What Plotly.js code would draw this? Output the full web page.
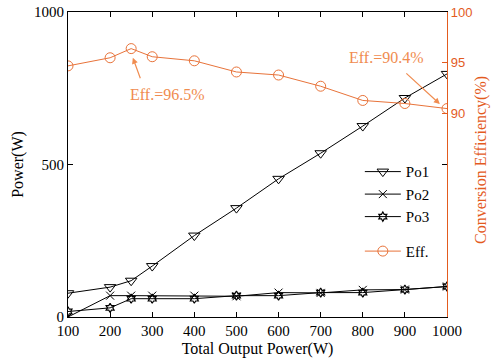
<!DOCTYPE html>
<html>
<head>
<meta charset="utf-8">
<script src="https://cdn.plot.ly/plotly-3.0.1.min.js"></script>
<style>
html,body{margin:0;padding:0;background:#fff;}
#chart{width:491px;height:362px;}
</style>
</head>
<body>
<div id="chart"></div>
<script>
const outputPower = [100, 200, 250, 300, 400, 500, 600, 700, 800, 900, 1000];
const po1 = [78, 98, 119, 167, 267, 357, 453, 537, 626, 718, 797];
const po2 = [0, 70, 70, 70, 70, 68, 80, 79, 89, 90, 100];
const po3 = [18, 30, 60, 60, 60, 70, 70, 80, 80, 90, 100];
const efficiency = [94.7, 95.5, 96.4, 95.6, 95.2, 94.1, 93.8, 92.7, 91.3, 91.0, 90.5];
const xTicks = [100, 200, 300, 400, 500, 600, 700, 800, 900, 1000];
const yTicks = [0, 500, 1000];
const y2Ticks = [90, 95, 100];

const serif = 'Liberation Serif';
const sans = 'Liberation Sans';
const effLine = '#E8733A';
const effAxis = '#E35B1E';
const effText = '#F08C50';

const traces = [
  {x: outputPower, y: po1, name: 'Po1', mode: 'lines+markers', legendgroup: 'a',
   line: {color: '#000', width: 1}, marker: {symbol: 'triangle-down-open', size: 10, color: '#000', line: {width: 1}}},
  {x: outputPower, y: po2, name: 'Po2', mode: 'lines+markers', legendgroup: 'a',
   line: {color: '#000', width: 1}, marker: {symbol: 'x-thin-open', size: 8, color: '#000', line: {width: 1}}},
  {x: outputPower, y: po3, name: 'Po3', mode: 'lines+markers', legendgroup: 'a',
   line: {color: '#000', width: 1}, marker: {symbol: 'hexagram-open', size: 7, color: '#000', line: {width: 1.2}}},
  {x: outputPower, y: efficiency, name: 'Eff.', mode: 'lines+markers', yaxis: 'y2', legendgroup: 'b',
   line: {color: effLine, width: 1}, marker: {symbol: 'circle-open', size: 10, color: effLine, line: {width: 1}}}
];

const arrowStyle = {showarrow: true, arrowhead: 2, arrowsize: 1, arrowwidth: 1.2, arrowcolor: effText,
  text: '', xref: 'x', yref: 'y2', standoff: 0, startstandoff: 0};

const layout = {
  width: 491, height: 362,
  margin: {l: 68, r: 44, t: 12, b: 45},
  paper_bgcolor: '#fff', plot_bgcolor: '#fff',
  font: {family: serif, size: 15, color: '#000'},
  showlegend: true,
  legend: {x: 0.77, y: 0.53, xanchor: 'left', yanchor: 'top', bgcolor: 'rgba(0,0,0,0)',
    font: {family: serif, size: 15, color: '#000'}, tracegroupgap: 12, itemwidth: 36},
  xaxis: {range: [100, 1000], tickvals: xTicks, ticks: 'inside', ticklen: 5, tickcolor: '#000',
    showline: true, linecolor: '#000', linewidth: 1, mirror: 'ticks', showgrid: false, zeroline: false,
    tickfont: {family: serif, size: 15, color: '#000'},
    title: {text: 'Total Output Power(W)', font: {family: serif, size: 16, color: '#000'}, standoff: 4}},
  yaxis: {range: [0, 1000], tickvals: yTicks, ticks: 'inside', ticklen: 5, tickcolor: '#000',
    showline: true, linecolor: '#000', linewidth: 1, mirror: 'ticks', showgrid: false, zeroline: false,
    tickfont: {family: serif, size: 15, color: '#000'},
    title: {text: 'Power(W)', font: {family: serif, size: 16, color: '#000'}, standoff: 6}},
  yaxis2: {overlaying: 'y', side: 'right', range: [70, 100], tickvals: y2Ticks, ticks: 'inside', ticklen: 5,
    tickcolor: effAxis, showline: true, linecolor: effAxis, linewidth: 1.2, showgrid: false, zeroline: false,
    tickfont: {family: sans, size: 13, color: effAxis}},
  annotations: [
    Object.assign({}, arrowStyle, {x: 254, y: 95.5, ax: 8, ay: 22}),
    Object.assign({}, arrowStyle, {x: 983, y: 90.95, ax: -35, ay: -32}),
    {x: 337, y: 91.85, xref: 'x', yref: 'y2', text: 'Eff.=96.5%', showarrow: false,
     font: {family: serif, size: 16, color: effText}, xanchor: 'center', yanchor: 'middle'},
    {x: 857, y: 95.5, xref: 'x', yref: 'y2', text: 'Eff.=90.4%', showarrow: false,
     font: {family: serif, size: 16, color: effText}, xanchor: 'center', yanchor: 'middle'},
    {x: (481 - 68) / (491 - 68 - 44), y: 1 - (160 - 12) / (362 - 12 - 45), xref: 'paper', yref: 'paper',
     text: 'Conversion Efficiency(%)', showarrow: false, textangle: -90, xanchor: 'center', yanchor: 'middle',
     font: {family: serif, size: 16, color: effAxis}}
  ]
};

Plotly.newPlot('chart', traces, layout, {displayModeBar: false, staticPlot: true});
</script>
</body>
</html>
